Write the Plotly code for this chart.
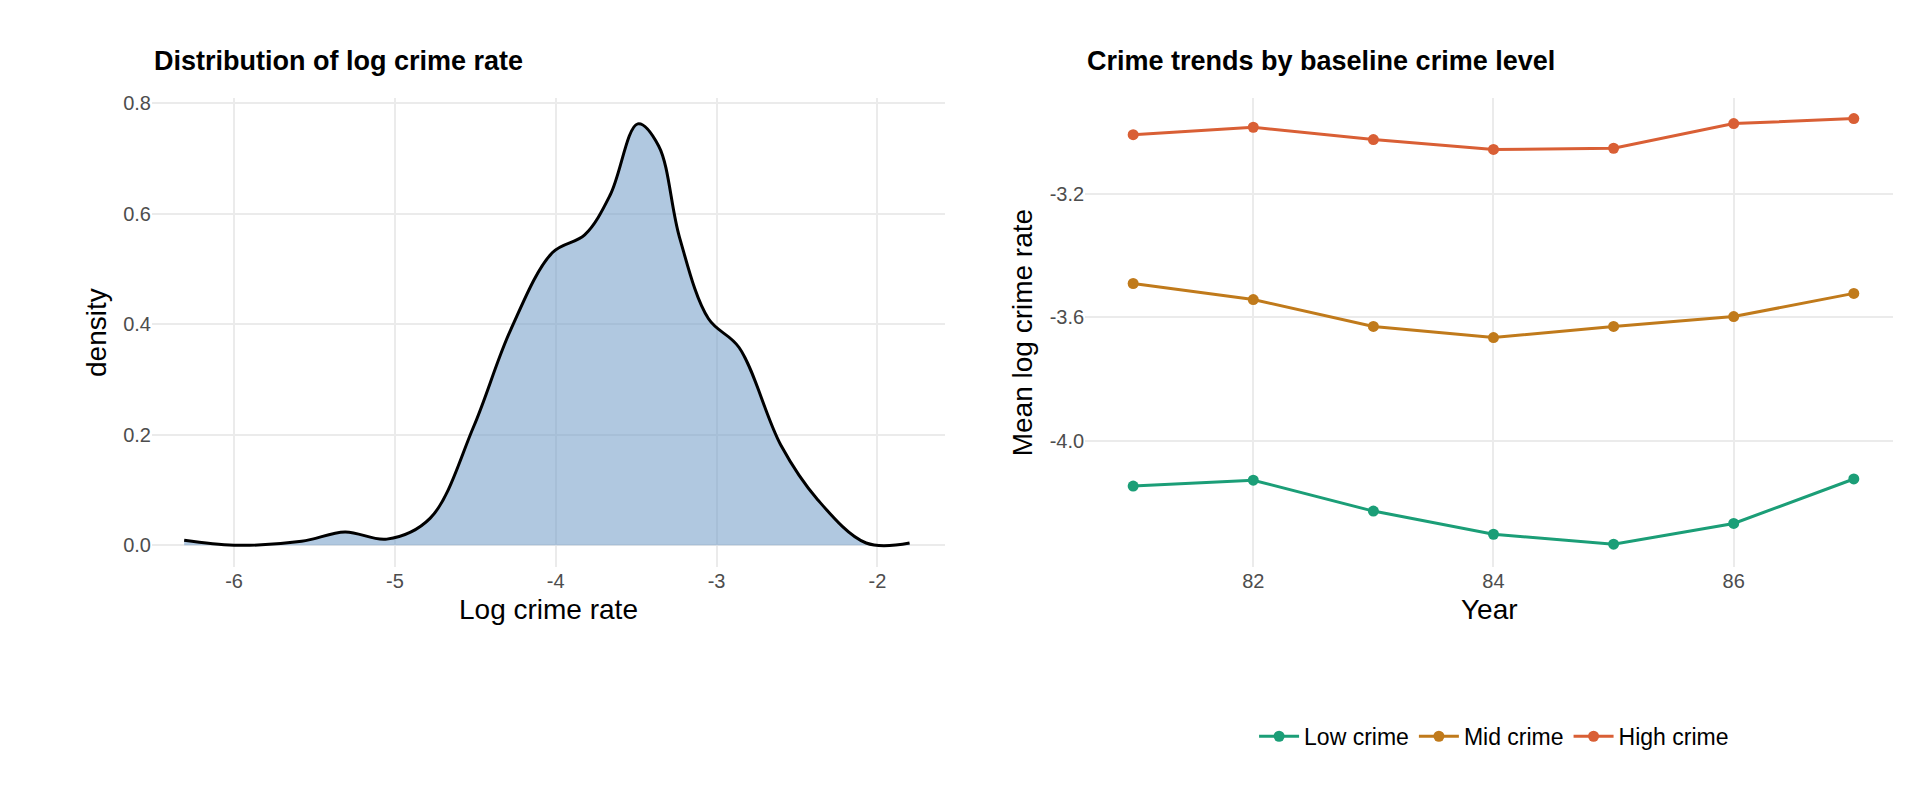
import plotly.graph_objects as go

dens_x = [-6.31,-6.0,-5.58,-5.31,-5.05,-4.78,-4.51,-4.28,-4.02,-3.82,-3.66,-3.49,-3.36,-3.23,-3.05,-2.86,-2.6,-2.37,-2.07,-1.8]
dens_y = [0.009,0.0,0.007,0.024,0.011,0.049,0.215,0.39,0.53,0.562,0.635,0.763,0.723,0.557,0.41,0.358,0.181,0.082,0.004,0.004]

years = [81,82,83,84,85,86,87]
low = [-4.147,-4.128,-4.228,-4.303,-4.335,-4.268,-4.124]
mid = [-3.491,-3.543,-3.630,-3.666,-3.630,-3.598,-3.523]
high = [-3.009,-2.985,-3.025,-3.057,-3.053,-2.973,-2.957]
series = [("Low crime", low, "#1B9E77"), ("Mid crime", mid, "#C07A1B"), ("High crime", high, "#D95F35")]

x1_ticks = [-6,-5,-4,-3,-2]
x1_labels = ["-6","-5","-4","-3","-2"]
y2_ticks = [-4.0,-3.6,-3.2]
y2_labels = ["-4.0","-3.6","-3.2"]

fig = go.Figure()
fig.add_trace(go.Scatter(x=dens_x, y=dens_y, mode="lines", line=dict(color="black", width=3, shape="spline"),
                         fill="tozeroy", fillcolor="rgba(112,154,199,0.55)", showlegend=False, xaxis="x", yaxis="y"))
for name, vals, col in series:
    fig.add_trace(go.Scatter(x=years, y=vals, mode="lines+markers", name=name, line=dict(color=col, width=3),
                             marker=dict(size=11, color=col), xaxis="x2", yaxis="y2"))

ax = dict(showgrid=True, gridcolor="#EBEBEB", gridwidth=2, zeroline=False, showline=False, ticks="",
          tickfont=dict(size=20, color="#4D4D4D", family="Liberation Sans"))
tf = dict(size=28)
fig.update_layout(
    width=1920, height=806, plot_bgcolor="white", paper_bgcolor="white",
    margin=dict(l=0, r=0, t=0, b=0), font=dict(family="Liberation Sans", color="black"),
    xaxis=dict(ax, domain=[0.075, 0.488], range=[-6.51, -1.58], tickvals=x1_ticks, ticktext=x1_labels,
               title=dict(text="Log crime rate", font=tf, standoff=8)),
    yaxis=dict(ax, domain=[0.308, 0.894], range=[-0.04, 0.81], tickvals=[0,0.2,0.4,0.6,0.8], tickformat=".1f",
               title=dict(text="density", font=tf, standoff=8)),
    xaxis2=dict(ax, domain=[0.561, 0.982], range=[80.6, 87.33], tickvals=[82,84,86], anchor="y2",
                title=dict(text="Year", font=tf, standoff=8)),
    yaxis2=dict(ax, domain=[0.308, 0.894], range=[-4.41, -2.89], tickvals=y2_ticks, ticktext=y2_labels, anchor="x2",
                title=dict(text="Mean log crime rate", font=tf, standoff=8)),
    legend=dict(orientation="h", x=0.774, xanchor="center", y=0.097, yanchor="middle", font=dict(size=23),
                itemwidth=40),
    annotations=[
        dict(text="<b>Distribution of log crime rate</b>", x=0.075, y=0.94, xref="paper", yref="paper",
             xanchor="left", yanchor="middle", showarrow=False, font=dict(size=27)),
        dict(text="<b>Crime trends by baseline crime level</b>", x=0.561, y=0.94, xref="paper", yref="paper",
             xanchor="left", yanchor="middle", showarrow=False, font=dict(size=27)),
    ],
)
fig.write_html("out.html")
